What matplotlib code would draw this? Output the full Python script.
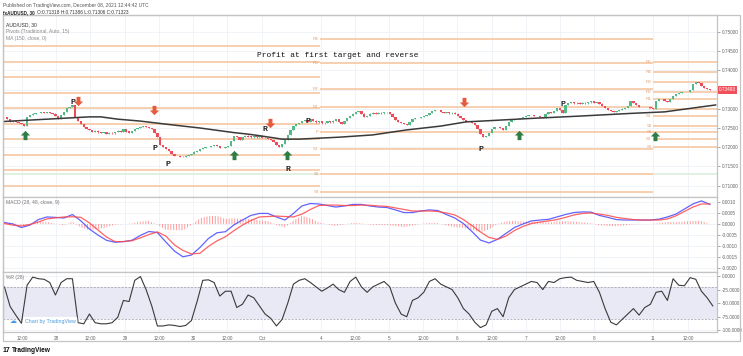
import numpy as np
import matplotlib.pyplot as plt
from matplotlib.path import Path
from matplotlib.patches import Rectangle

W, H = 743, 356

# ---------------- data ----------------
# hourly closes AUD/USD
close = [
    .7279, .7273, .7266, .7268, .7266, .7263, .7260, .7255, .7279, .7284,
    .7287, .7289, .7289, .7292, .7289, .7292, .7289, .7287, .7281, .7273,
    .7284, .7292, .7302, .7305, .7310, .7279, .7268, .7260, .7253, .7247,
    .7245, .7241, .7243, .7239, .7237, .7239, .7234, .7238, .7236, .7240,
    .7243, .7240, .7246, .7241, .7237, .7242, .7247, .7250, .7253, .7255,
    .7253, .7250, .7247, .7237, .7227, .7206, .7201, .7195, .7190, .7182,
    .7177, .7177, .7175, .7175, .7177, .7180, .7182, .7188, .7190, .7195,
    .7198, .7201, .7201, .7203, .7206, .7203, .7198, .7198, .7201, .7203,
    .7216, .7229, .7227, .7219, .7227, .7230, .7228, .7226, .7229, .7226,
    .7228, .7225, .7224, .7221, .7219, .7214, .7206, .7201, .7208, .7219,
    .7232, .7245, .7255, .7260, .7263, .7268, .7270, .7267, .7272, .7269,
    .7265, .7267, .7262, .7264, .7267, .7265, .7269, .7272, .7266, .7260,
    .7268, .7276, .7281, .7287, .7292, .7294, .7287, .7279, .7281, .7287,
    .7290, .7287, .7290, .7288, .7291, .7292, .7287, .7279, .7271, .7266,
    .7263, .7260, .7258, .7266, .7273, .7276, .7276, .7279, .7281, .7284,
    .7289, .7294, .7297, .7297, .7292, .7289, .7291, .7288, .7290, .7287,
    .7281, .7276, .7271, .7266, .7266, .7263, .7258, .7247, .7234, .7227,
    .7229, .7237, .7247, .7253, .7253, .7250, .7245, .7255, .7266, .7271,
    .7273, .7273, .7276, .7279, .7281, .7284, .7284, .7281, .7281, .7279,
    .7276, .7287, .7292, .7289, .7294, .7302, .7297, .7289, .7310, .7315,
    .7318, .7314, .7316, .7313, .7316, .7314, .7317, .7319, .7316, .7318,
    .7313, .7307, .7302, .7297, .7294, .7292, .7294, .7297, .7300, .7302,
    .7307, .7320, .7315, .7310, .7305, .7305, .7305, .7305, .7302, .7300,
    .7320, .7326, .7326, .7320, .7318, .7326, .7333, .7339, .7341, .7344,
    .7344, .7344, .7349, .7365, .7370, .7367, .7359, .7354, .7352, .7349,
    .73493,
]

# MA(150) read at a few bars
ma_x = [0, 10, 20, 30, 34, 40, 48, 57, 69, 81, 86, 90, 98, 104, 118, 130,
        142, 154, 163, 171, 186, 203, 221, 233, 242, 251]
ma_y = [.7267, .7271, .7275, .7279, .7279, .7273, .7268, .7260, .7250, .7238,
        .7234, .7230, .7221, .7221, .7226, .7232, .7245, .7255, .7266, .7269,
        .7275, .7281, .7288, .7292, .7301, .7310]

# weekly pivots
seg_bounds = [(-0.5, 111.5), (111.5, 229), (229, 251.5)]
seg1_levels = [.74630, .74227, .73820, .73417, .73013, .72609, .72206, .71802, .71398, .70995]
seg2_names = ['R4', 'R3', 'R2', 'R1', 'P', 'S1', 'S2', 'S3']
seg2_levels = [.74818, .74185, .73508, .73055, .72391, .71961, .71302, .70841]
seg3_names = ['R5', 'R4', 'R3', 'R2', 'R1', 'P', 'S1', 'S2', 'S3', 'S4', 'S5']
seg3_levels = [.74227, .73951, .73690, .73445, .73255, .72995, .72812, .72552, .72388, .72221, .72013]
hline_level = .71302

# signal arrows and letters
up_x = [7.3, 81.1, 99.6, 181.6, 229.7]
up_y = [.72305, .71797, .71797, .72318, .72292]
dn_x = [25.9, 52.9, 93.8, 162.2]
dn_y = [.73203, .72969, .72622, .73190]
lbl_txt = ['P', 'P', 'P', 'R', 'R', 'P', 'P', 'P']
lbl_x = [24.1, 53.3, 57.9, 92.0, 100.0, 107.3, 168.1, 197.3]
lbl_y = [.7316, .7197, .7154, .7247, .7142, .7268, .7195, .7312]

# MACD (28, 48, 9) every 3 bars
macd_x = np.arange(0, 250, 3)
macd = [
    0.00007, 0.00000, -0.00016, -0.00005, 0.00020, 0.00032, 0.00030, 0.00027, 0.00043, 0.00014,
    -0.00023, -0.00050, -0.00074, -0.00083, -0.00080, -0.00074, -0.00052, -0.00034, -0.00039, -0.00082,
    -0.00123, -0.00149, -0.00141, -0.00107, -0.00066, -0.00040, -0.00035, -0.00004, 0.00018, 0.00039,
    0.00048, 0.00048, 0.00032, 0.00018, 0.00048, 0.00082, 0.00093, 0.00091, 0.00084, 0.00077,
    0.00082, 0.00089, 0.00089, 0.00082, 0.00077, 0.00075, 0.00064, 0.00052, 0.00052, 0.00059,
    0.00064, 0.00061, 0.00043, 0.00027, 0.00002, -0.00034, -0.00073, -0.00086, -0.00070, -0.00043,
    -0.00016, 0.00000, 0.00014, 0.00018, 0.00021, 0.00032, 0.00043, 0.00052, 0.00055, 0.00054,
    0.00039, 0.00030, 0.00020, 0.00018, 0.00018, 0.00018, 0.00018, 0.00022, 0.00032, 0.00045,
    0.00068, 0.00091, 0.00105, 0.00089,
]
signal = [
    0.00002, -0.00005, -0.00009, -0.00002, 0.00009, 0.00023, 0.00028, 0.00032, 0.00033, 0.00030,
    0.00005, -0.00027, -0.00059, -0.00080, -0.00080, -0.00076, -0.00063, -0.00048, -0.00036, -0.00055,
    -0.00095, -0.00120, -0.00136, -0.00133, -0.00102, -0.00077, -0.00058, -0.00030, -0.00005, 0.00016,
    0.00032, 0.00034, 0.00036, 0.00034, 0.00032, 0.00045, 0.00066, 0.00084, 0.00086, 0.00086,
    0.00084, 0.00084, 0.00086, 0.00085, 0.00082, 0.00080, 0.00073, 0.00066, 0.00059, 0.00059,
    0.00059, 0.00057, 0.00050, 0.00041, 0.00020, -0.00007, -0.00036, -0.00061, -0.00070, -0.00055,
    -0.00030, -0.00011, 0.00002, 0.00009, 0.00014, 0.00020, 0.00030, 0.00041, 0.00048, 0.00050,
    0.00045, 0.00039, 0.00030, 0.00025, 0.00020, 0.00018, 0.00018, 0.00018, 0.00023, 0.00037,
    0.00057, 0.00077, 0.00091, 0.00091,
]

# Williams %R (28) every 2 bars
wr_x = np.arange(0, 251, 2)
wr = [
    -20, -56, -72, -87, -17, -2, -5, -6, -12, -35,
    -12, -5, -5, -86, -88, -70, -86, -88, -88, -86,
    -76, -45, -47, -8, -1, -25, -55, -92, -92, -90,
    -91, -93, -91, -82, -47, -8, -7, -12, -37, -28,
    -28, -58, -52, -35,
    -40, -55, -70, -78, -92, -80, -50, -15, -8, -5,
    -12, -20, -28, -22, -15, -25, -30, -10, -2, -20,
    -30, -20, -15, -10, -20, -50, -70, -75, -45, -40,
    -30, -10, -5, -15, -20, -25, -40, -60, -70, -85,
    -95, -90, -65, -60, -75, -40, -25, -20, -15, -10,
    -12, -25, -10, -12, -5, -3, -2, -8, -10, -12,
    -10, -30, -60, -85, -90, -80, -70, -60, -72, -58,
    -52, -30, -28, -45, -5, -17, -18, -3, -6, -28,
    -40, -55,
]

tick_pos = [6.2, 18.2, 30.2, 42.6, 54.6, 66.6, 78.6, 90.9, 111.7, 123.8, 135.8,
            147.8, 159.8, 172.1, 184.1, 196.1, 208.1, 228.9, 241.3]
tick_lbl = ['12:00', '28', '12:00', '29', '12:00', '30', '12:00', 'Oct', '4', '12:00', '5',
            '12:00', '6', '12:00', '7', '12:00', '8', '11', '12:00']

# ---------------- figure ----------------
plt.rcParams['font.family'] = ['Liberation Sans', 'DejaVu Sans']
plt.rcParams['hatch.linewidth'] = 0.7
fig = plt.figure(figsize=(W / 100, H / 100), dpi=100)


def fx(px):
    return px / W


def fy(py):
    return 1 - py / H


ax = fig.add_axes([fx(3), fy(197), 714 / W, 182.5 / H])
ax2 = fig.add_axes([fx(3), fy(271.5), 714 / W, 74.5 / H], sharex=ax)
ax3 = fig.add_axes([fx(3), fy(332), 714 / W, 60.5 / H], sharex=ax)

grid_c = '#eef1f7'
edge_c = '#c4c4c4'
for a in (ax, ax2, ax3):
    a.set_xticks(tick_pos)
    a.grid(True, color=grid_c, lw=0.6)
    a.set_axisbelow(True)
    a.yaxis.tick_right()
    a.tick_params(axis='y', labelsize=3.4, colors='#666', length=2, width=0.4, pad=1.5)
    a.tick_params(axis='x', length=0, labelsize=3.3, colors='#666', pad=3)
    for s in a.spines.values():
        s.set_color(edge_c)
        s.set_linewidth(0.9)
ax.tick_params(axis='x', labelbottom=False)
ax2.tick_params(axis='x', labelbottom=False)
ax3.set_xticklabels(tick_lbl)
ax.set_xlim(-0.5, 251.5)

# --- price pane ---
c = np.array(close)
o = np.r_[c[0], c[:-1]]
x = np.arange(len(c))
col = np.where(c >= o, '#53b987', '#eb4d5c')
ax.vlines(x, np.minimum(o, c) - 0.00008, np.maximum(o, c) + 0.00008, colors=col, lw=0.6, zorder=4)
ax.bar(x, np.abs(c - o) + 0.00003, bottom=np.minimum(o, c) - 0.000015, width=0.8, color=col,
       lw=0, zorder=4)
ax.plot(ma_x, ma_y, color='#3a3a3a', lw=1.1, zorder=5)

piv_c = '#f6cfae'
lab_c = '#e8a070'
ax.axhline(hline_level, color='#dcefdc', lw=1.2, zorder=2)
for lv in seg1_levels:
    ax.hlines(lv, *seg_bounds[0], color=piv_c, lw=1.4, zorder=2)
for nm, lv in zip(seg2_names, seg2_levels):
    ax.hlines(lv, *seg_bounds[1], color=piv_c, lw=1.4, zorder=2)
    ax.text(seg_bounds[1][0] - 0.6, lv, nm, fontsize=3.2, color=lab_c, ha='right', va='center')
for nm, lv in zip(seg3_names, seg3_levels):
    ax.hlines(lv, *seg_bounds[2], color=piv_c, lw=1.4, zorder=2)
    ax.text(seg_bounds[2][0] - 0.6, lv, nm, fontsize=3.2, color=lab_c, ha='right', va='center')

arrow = Path([(0, 1), (1, 0), (0.42, 0), (0.42, -1), (-0.42, -1), (-0.42, 0), (-1, 0), (0, 1)],
             [Path.MOVETO] + [Path.LINETO] * 6 + [Path.CLOSEPOLY])
arrow_dn = Path(arrow.vertices * [1, -1], arrow.codes)
ax.scatter(up_x, up_y, marker=arrow, s=45, color='#2f7d45', lw=0, zorder=6)
ax.scatter(dn_x, dn_y, marker=arrow_dn, s=45, color='#e55b3c', lw=0, zorder=6)
for t, lx, ly in zip(lbl_txt, lbl_x, lbl_y):
    ax.text(lx, ly, t, family='Liberation Mono', weight='bold', fontsize=6,
            color='#222', ha='center', va='center', zorder=7)
ax.text(89, 0.74375, 'Profit at first target and reverse', family='Liberation Mono',
        fontsize=5.7, color='#111', va='center', ha='left')

ax.set_ylim(0.707031, 0.754557)
price_ticks = np.arange(0.71, 0.7501, 0.005)
ax.set_yticks(price_ticks)
# the last-price tag covers the 0.73500 label
ax.set_yticklabels(['' if abs(v - 0.735) < 1e-6 else f'{v:.5f}' for v in price_ticks])
ax.text(1.003, close[-1], f'{close[-1]:.5f}', transform=ax.get_yaxis_transform(),
        fontsize=3.4, color='white', va='center', ha='left', zorder=10,
        bbox=dict(boxstyle='square,pad=0.25', fc='#f0505a', ec='none'), clip_on=False)

# --- MACD pane ---
m = np.array(macd)
sg = np.array(signal)
ax2.fill_between(macd_x, 0, m - sg, facecolor='none', edgecolor='#ff7a7a', hatch='||||||',
                 lw=0, alpha=0.75)
ax2.plot(macd_x, m, color='#4848ff', lw=0.9, alpha=0.85)
ax2.plot(macd_x, sg, color='#ff4848', lw=0.9, alpha=0.85)
ax2.set_ylim(-0.002159, 0.001227)
mt = np.arange(-0.002, 0.00101, 0.0005)
ax2.set_yticks(mt)
ax2.set_yticklabels([f'{v:.4f}' if abs(v) > 1e-9 else '0.0000' for v in mt])

# --- Williams %R pane ---
ax3.fill_between([-0.5, 251.5], -80, -20, color='#e9e9f5', lw=0)
ax3.axhline(-20, color='#9a9aa8', lw=0.5, ls=(0, (3, 2)))
ax3.axhline(-80, color='#9a9aa8', lw=0.5, ls=(0, (3, 2)))
ax3.plot(wr_x, wr, color='#3a3a3a', lw=0.8)
ax3.set_ylim(-103.1, 8.3)
ax3.set_yticks([0, -25, -50, -75, -100])
ax3.set_yticklabels(['0.0000', '-25.0000', '-50.0000', '-75.0000', '-100.0000'])

# --- header and legend texts ---
fig.text(fx(3), fy(5), 'Published on TradingView.com, December 08, 2021 12:44:42 UTC',
         fontsize=3.5, color='#555', va='center')
fig.text(fx(3), fy(12.5), 'fxAUDUSD, 30', fontsize=3.3, color='#222', weight='bold', va='center')
fig.text(fx(37), fy(12.5), 'O:0.71318 H:0.71386 L:0.71306 C:0.71323', fontsize=3.4,
         color='#333', va='center')
fig.text(fx(6), fy(24.5), 'AUD/USD, 30', fontsize=3.6, color='#333', va='center')
fig.text(fx(6), fy(31.5), 'Pivots (Traditional, Auto, 15)', fontsize=3.6, color='#888', va='center')
fig.text(fx(6), fy(38.5), 'MA (150, close, 0)', fontsize=3.6, color='#888', va='center')
fig.text(fx(6), fy(202), 'MACD (28, 48, close, 9)', fontsize=3.6, color='#777', va='center')
fig.text(fx(6), fy(278), '%R (28)', fontsize=3.6, color='#777', va='center')
fig.text(fx(25), fy(321), 'Chart by TradingView', fontsize=3.8, color='#4a9be0', va='center',
         bbox=dict(boxstyle='round,pad=0.3', fc='white', ec='none'))
fig.text(fx(13.5), fy(321), '\u2601', fontsize=5, color='#4a9be0', va='center', ha='center',
         family='DejaVu Sans')
fig.text(fx(3), fy(350), '17', fontsize=5, color='#111', weight='bold', va='center')
fig.text(fx(12), fy(350), 'TradingView', fontsize=4.8, color='#111', weight='bold', va='center')

fig.patches.append(Rectangle((fx(3), fy(341)), 737 / W, 326.5 / H, transform=fig.transFigure,
                             fill=False, ec=edge_c, lw=0.9))

fig.savefig('out.png', dpi=100)
